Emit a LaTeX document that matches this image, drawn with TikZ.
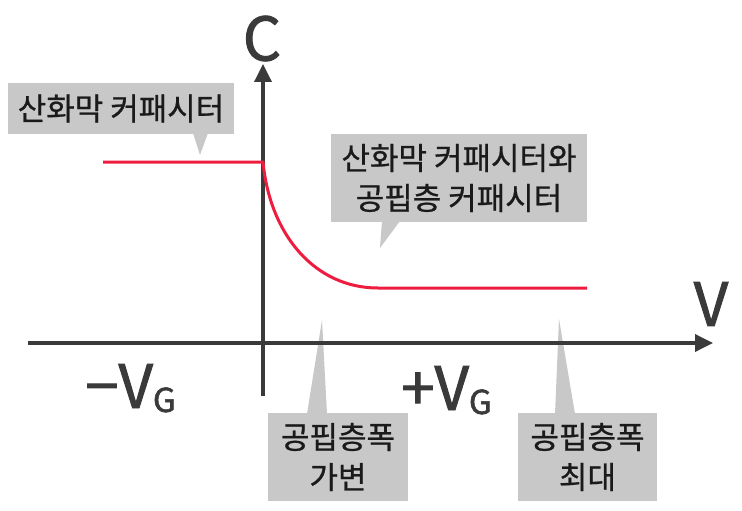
\documentclass[tikz,border=0pt]{standalone}
\usepackage{fontspec}
\setmainfont{Noto Sans CJK KR}
\newfontfamily\krfont[FakeBold=0.8]{Noto Sans CJK KR}
\newfontfamily\latfont[FakeBold=1.6]{Noto Sans CJK KR}
\usetikzlibrary{arrows.meta}
\definecolor{boxgray}{HTML}{C8C8C8}
\definecolor{axisgray}{HTML}{3A3A3A}
\definecolor{curvered}{HTML}{EE1C3F}
\definecolor{txt}{HTML}{1A1A1A}
\begin{document}
\begin{tikzpicture}[x=1pt,y=-1pt,
  lbl/.style={fill=boxgray, text=txt, font=\krfont\fontsize{31}{40}\selectfont, align=center, inner sep=0pt},
  ptr/.style={fill=boxgray},
  axisline/.style={draw=axisgray, line width=3.5pt, -{Triangle[length=18pt,width=17pt]}},
  big/.style={text=axisgray, font=\latfont\fontsize{60}{60}\selectfont, inner sep=0pt},
  curveline/.style={draw=curvered, line width=3pt}]
\useasboundingbox[fill=white] (0,0) rectangle (742,511);
% callout boxes
\node[lbl, minimum width=226pt, minimum height=51pt] (ox) at (121,108.5) {산화막 커패시터};
\node[lbl, minimum width=256pt, minimum height=88pt] (both) at (459,178) {산화막 커패시터와\\공핍층 커패시터};
\node[lbl, minimum width=140pt, minimum height=88pt] (var) at (338,457) {공핍층폭\\가변};
\node[lbl, minimum width=139pt, minimum height=88pt] (max) at (587.5,457) {공핍층폭\\최대};
% pointers
\fill[ptr] (193,133) -- (200,155) -- (208,133) -- cycle;
\fill[ptr] (382,221) -- (380,248) -- (400,221) -- cycle;
\fill[ptr] (307,414) -- (322,320) -- (327,414) -- cycle;
\fill[ptr] (555,414) -- (559,319) -- (575,414) -- cycle;
% axes
\coordinate (xs) at (28,343);
\coordinate (xe) at (713,343);
\coordinate (ys) at (263,396);
\coordinate (ye) at (263,64);
\draw[axisline] (xs) -- (xe);
\draw[axisline] (ys) -- (ye);
% curve
\coordinate (c0) at (103,162);
\coordinate (c1) at (263,162);
\coordinate (c2) at (378,288);
\coordinate (c3) at (587,288);
\draw[curveline] (c0) -- (c1) .. controls (270,235) and (315,288) .. (c2) -- (c3);
% axis labels
\node[big] (C) at (262,38.5) {C};
\node[big] (V) at (711,304) {V};
\node[big, anchor=base west] (mvg) at (85,408) {−V\raisebox{-4pt}{\fontsize{33}{33}\selectfont G}};
\node[big, anchor=base west] (pvg) at (401,410) {+V\raisebox{-4pt}{\fontsize{33}{33}\selectfont G}};
\end{tikzpicture}
\end{document}
